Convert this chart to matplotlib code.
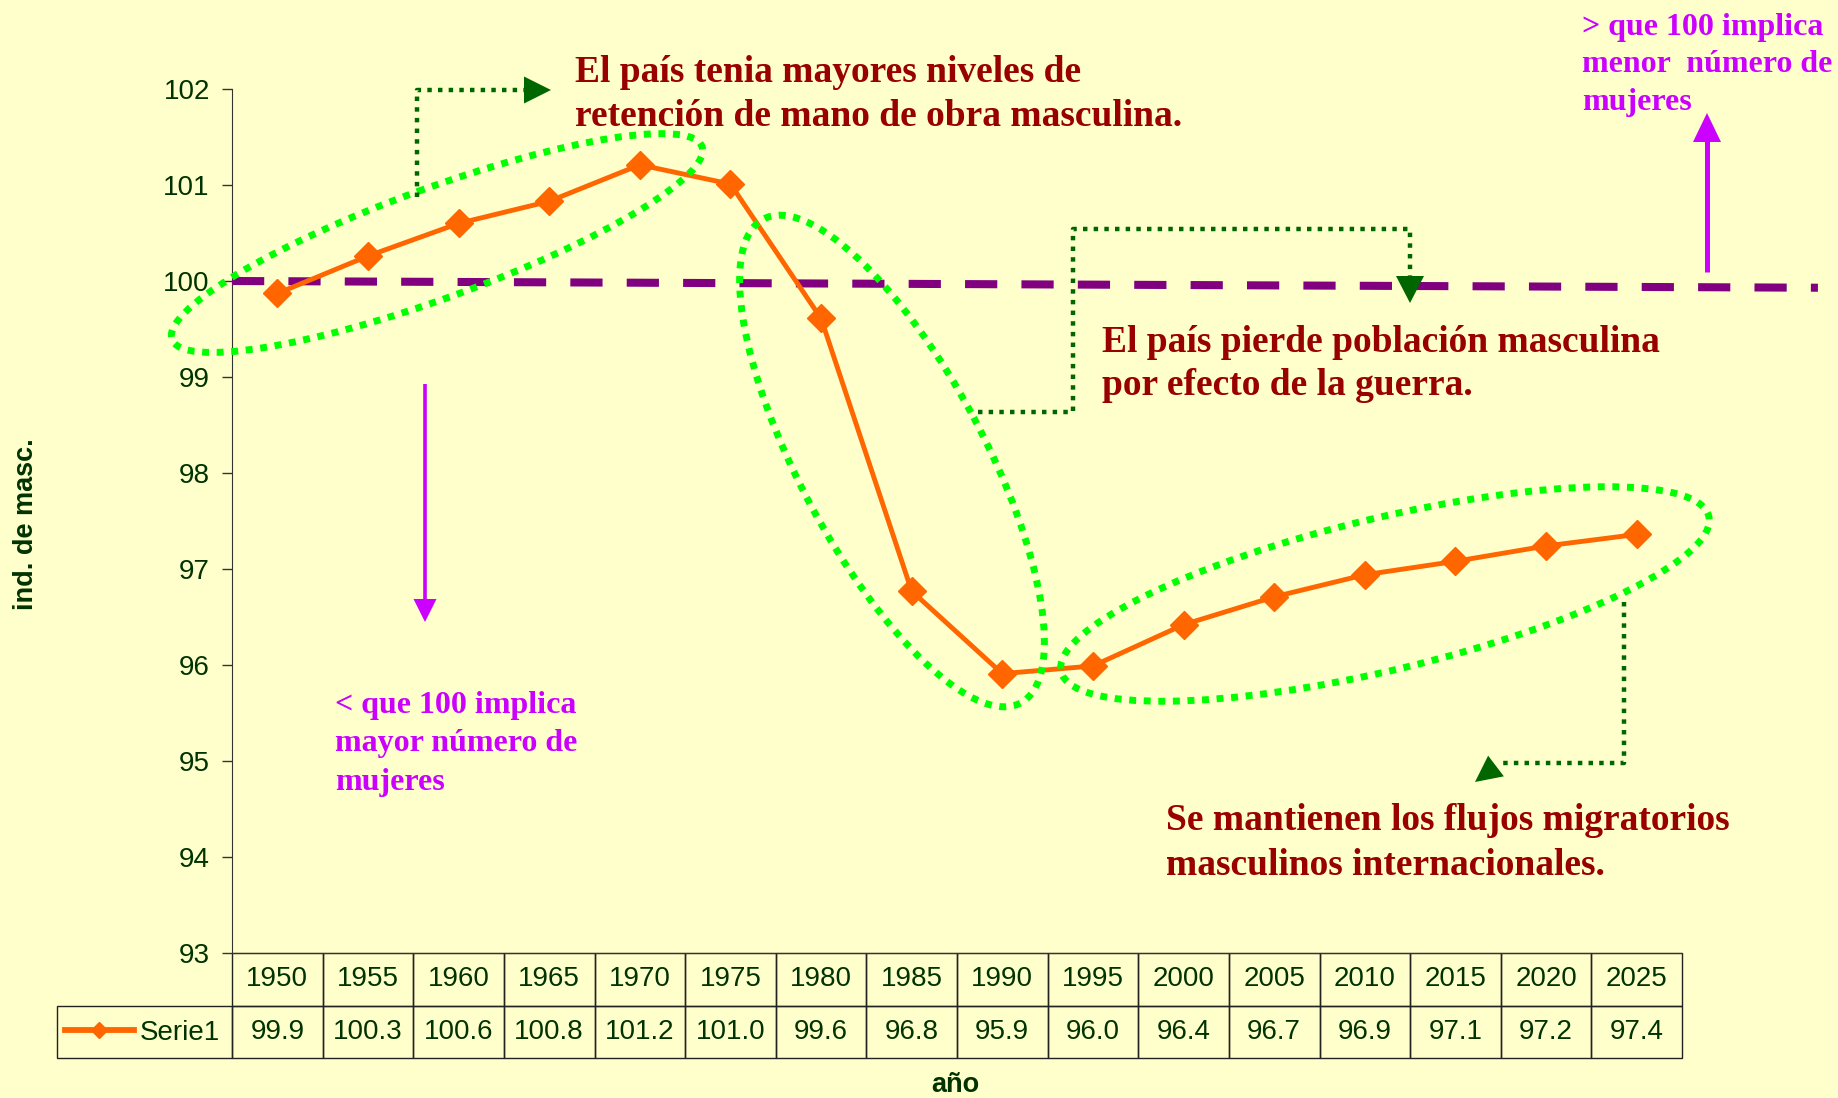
import numpy as np
import matplotlib.pyplot as plt
from matplotlib.patches import Ellipse, Polygon

# data
years = ['1950', '1955', '1960', '1965', '1970', '1975', '1980', '1985',
         '1990', '1995', '2000', '2005', '2010', '2015', '2020', '2025']
serie1 = [99.87, 100.26, 100.60, 100.83, 101.21, 101.01, 99.61, 96.77,
          95.91, 95.99, 96.42, 96.71, 96.94, 97.08, 97.24, 97.36]
ref_x = [-0.5, 17.0]
ref_y = [100.0, 99.93]
yticks = list(range(93, 103))

W, H = 1838, 1098
BG = '#FFFFCC'
DKGREEN = '#003300'
RED = '#990000'
MAG = '#CC00FF'
CONN = '#006600'

plt.rcParams['font.family'] = ['Liberation Sans', 'DejaVu Sans']

fig = plt.figure(figsize=(W / 100, H / 100), dpi=100, facecolor=BG)
ax = fig.add_axes([232 / W, 1 - 953 / H, (1682 - 232) / W, (953 - 89) / H])
ax.set_facecolor(BG)

x = np.arange(len(years))
ax.plot(x, serie1, color='#FF6600', lw=3.5, marker='D', ms=14,
        label='Serie1', zorder=4)
ax.plot(ref_x, ref_y, color='#800080', lw=5.8, linestyle=(0, (4, 3)),
        dash_capstyle='butt', clip_on=False, zorder=3)

ax.set_xlim(-0.5, len(years) - 0.5)
ax.set_ylim(93, 102)
ax.set_yticks(yticks)
ax.set_xticks([])
ax.tick_params(axis='y', labelsize=20, labelcolor=DKGREEN, length=7,
               width=1, color='#333333', pad=9)
for s in ['top', 'right']:
    ax.spines[s].set_visible(False)
for s in ['left', 'bottom']:
    ax.spines[s].set_color('#333333')

# data table under the axis
cell_text = [[''] + years, [''] + [f'{v:.1f}' for v in serie1]]
leg_w, col_w = 175.3, 90.625
widths = [leg_w] + [col_w] * len(years)
tbl = ax.table(cellText=cell_text, cellLoc='center', colWidths=widths,
               bbox=[(56.7 - 232) / 1450, -105 / 864, (1682 - 56.7) / 1450, 105 / 864])
tbl.auto_set_font_size(False)
tbl.set_fontsize(20)
for (r, c), cell in tbl.get_celld().items():
    cell.set_facecolor('none')
    cell.set_edgecolor('#222222')
    cell.get_text().set_color(DKGREEN)
tbl[0, 0].visible_edges = ''

leg = ax.legend(loc='center right', bbox_to_anchor=(220 / W, 1 - 1033 / H),
                bbox_transform=fig.transFigure, frameon=False, fontsize=20,
                handlelength=2.5, handletextpad=0.2, borderpad=0, borderaxespad=0,
                markerscale=0.6, numpoints=1, labelcolor=DKGREEN)
for h in leg.get_lines():
    h.set_linewidth(4.2)

fig.text(26 / W, 1 - 524 / H, 'ind. de masc.', rotation=90, ha='center',
         va='center', fontsize=19.5, fontweight='bold', color=DKGREEN)
fig.text(955 / W, 1 - 1085 / H, 'año', ha='center', va='center',
         fontsize=19.5, fontweight='bold', color=DKGREEN)

# annotation layer in pixel coordinates
ov = fig.add_axes([0, 0, 1, 1], facecolor='none')
ov.set_xlim(0, W)
ov.set_ylim(H, 0)
ov.axis('off')

for (cx, cy), w, h, ang in [((437, 243), 564, 110, -20),
                            ((892, 461), 548, 185, 62),
                            ((1385, 594), 666, 152, -13.5)]:
    ov.add_patch(Ellipse((cx, cy), w, h, angle=ang, fill=False,
                         edgecolor='#00FF00', lw=5, linestyle=(0, (1, 1.1))))


def head(tip, base, width, color):
    tip = np.array(tip, float)
    base = np.array(base, float)
    d = tip - base
    n = np.array([-d[1], d[0]]) / np.hypot(*d) * width / 2
    ov.add_patch(Polygon([tip, base + n, base - n], closed=True,
                         facecolor=color, edgecolor='none'))


def connector(xs, ys, tip, width=27):
    ov.plot(xs, ys, color=CONN, lw=3.2, linestyle=(0, (1, 1.4)),
            dash_capstyle='butt')
    head(tip, (xs[-1], ys[-1]), width, CONN)


connector([417, 417, 524], [197, 90, 90], (551, 90))
connector([978, 1073, 1073, 1410, 1410], [412, 412, 229, 229, 276], (1410, 303), 28)
ov.plot([1624, 1624, 1500], [602, 763, 763], color=CONN, lw=3.2,
        linestyle=(0, (1, 1.4)), dash_capstyle='butt')
head((1475, 782), (1496, 766), 26, CONN)

# magenta arrows
ov.plot([425, 425], [384, 602], color=MAG, lw=2.6, solid_capstyle='butt')
head((425, 622), (425, 599), 23, MAG)
ov.plot([1707, 1707], [272, 140], color=MAG, lw=3.6, solid_capstyle='butt')
head((1707, 113), (1707, 142), 28, MAG)


def block(xp, y0, lines, gap, size, color):
    for i, s in enumerate(lines):
        ov.text(xp, y0 + i * gap, s, ha='left', va='baseline', fontsize=size,
                fontweight='bold', color=color, family='Liberation Serif')


block(575, 82, ['El país tenia mayores niveles de',
                'retención de mano de obra masculina.'], 44, 27, RED)
block(1102, 352, ['El país pierde población masculina',
                  'por efecto de la guerra.'], 43, 27, RED)
block(1166, 830, ['Se mantienen los flujos migratorios',
                  'masculinos internacionales.'], 45, 27, RED)
block(335, 713, ['< que 100 implica', 'mayor número de', 'mujeres'],
      38.5, 23, MAG)
block(1582, 35, ['> que 100 implica', 'menor  número de', 'mujeres'],
      37.5, 23, MAG)

fig.savefig('out.png', dpi=100, facecolor=BG)
